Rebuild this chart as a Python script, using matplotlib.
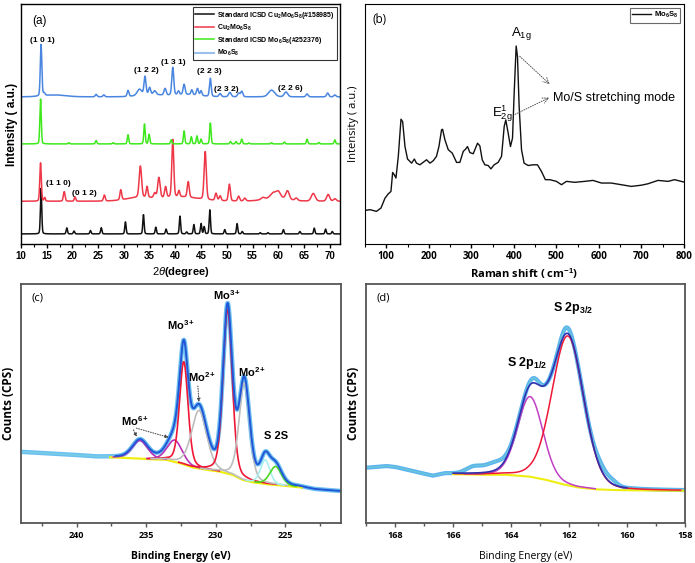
import numpy as np
import matplotlib
matplotlib.use("Agg")
import matplotlib.pyplot as plt

plt.rcParams["mathtext.fontset"] = "custom"
plt.rcParams["mathtext.rm"] = "Liberation Sans"
plt.rcParams["mathtext.it"] = "Liberation Sans:italic"
plt.rcParams["mathtext.bf"] = "Liberation Sans:bold"

# ---------------- data: (a) XRD peak lists (2theta, height) ----------------
xrd_black_base = 4.2
xrd_black_pos = [13.9, 18.9, 20.3, 23.5, 25.6, 30.3, 33.8, 36.2, 38.2, 40.9, 42.2, 43.6, 45.0, 45.6,
                 46.7, 49.6, 52.0, 53.0, 56.5, 58.0, 61.0, 64.2, 67.0, 69.2, 70.5]
xrd_black_h = [19.0, 2.5, 1.2, 1.4, 2.6, 5.0, 8.0, 2.8, 2.0, 7.4, 0.8, 3.9, 4.3, 3.0,
               10.0, 1.8, 4.3, 1.0, 0.5, 0.5, 1.8, 1.0, 2.4, 2.0, 1.0]

xrd_red_base = 17.8
xrd_red_pos = [13.8, 14.6, 18.4, 20.5, 26.2, 29.4, 33.2, 34.5, 36.0, 36.8, 38.1, 39.5, 40.7, 42.5,
               45.8, 47.9, 48.7, 50.5, 52.3, 53.5, 57.0, 59.0, 60.0, 61.8, 63.5, 66.8, 69.7, 71.0,
               33.0, 41.0, 59.5]
xrd_red_h = [16.0, 1.5, 4.0, 1.8, 2.5, 4.2, 13.0, 4.5, 2.0, 8.5, 4.5, 24.0, 2.5, 6.5,
             20.0, 3.0, 2.0, 7.0, 2.0, 1.2, 0.8, 2.0, 2.5, 3.5, 1.0, 3.2, 2.8, 1.0,
             1.5, 1.8, 1.5]
xrd_red_w = [0.35, 0.3, 0.4, 0.35, 0.4, 0.4, 0.55, 0.4, 0.5, 0.55, 0.45, 0.45, 0.4, 0.45,
             0.5, 0.45, 0.45, 0.45, 0.45, 0.5, 0.8, 1.2, 1.0, 0.8, 0.6, 0.9, 0.7, 0.6,
             6.0, 8.0, 5.0]

xrd_green_base = 41.7
xrd_green_pos = [13.8, 19.3, 24.6, 27.9, 30.8, 34.0, 34.9, 39.2, 41.7, 43.1, 44.2, 45.0, 46.8,
                 50.7, 51.8, 52.9, 54.3, 58.7, 61.2, 65.6, 67.9, 71.0]
xrd_green_h = [18.7, 0.5, 1.4, 0.5, 3.8, 8.3, 4.0, 1.7, 5.4, 3.0, 3.3, 2.0, 8.7,
               1.0, 1.0, 2.0, 0.4, 0.5, 0.8, 2.0, 0.6, 1.7]

xrd_blue_base = 61.3
xrd_blue_pos = [13.9, 14.5, 24.6, 26.1, 30.8, 33.0, 34.1, 35.0, 36.0, 38.0, 39.5, 40.6, 41.7,
                43.2, 44.3, 45.0, 46.8, 48.7, 50.6, 52.3, 52.9, 58.7, 61.5, 65.6, 69.6, 71.0,
                16.5, 35.0, 42.0]
xrd_blue_h = [21.5, 1.0, 1.0, 0.8, 2.5, 2.5, 7.5, 2.8, 1.5, 2.8, 11.5, 1.5, 4.2,
              2.0, 2.8, 2.0, 7.5, 1.3, 1.8, 1.5, 2.3, 2.8, 2.0, 1.2, 1.6, 0.8,
              0.8, 1.0, 1.0]
xrd_blue_w = [0.35, 0.4, 0.4, 0.4, 0.4, 1.0, 0.45, 0.45, 0.6, 0.5, 0.45, 0.4, 0.45,
              0.4, 0.45, 0.4, 0.4, 0.5, 0.6, 0.5, 0.5, 1.4, 0.8, 0.5, 0.5, 0.5,
              5.0, 5.0, 6.0]

xrd_labels = ["(1 0 1)", "(1 2 2)", "(1 3 1)", "(2 2 3)", "(2 3 2)", "(2 2 6)", "(1 1 0)", "(0 1 2)"]
xrd_label_x = [14.2, 34.3, 39.7, 46.6, 50.0, 62.3, 17.2, 22.3]
xrd_label_y = [85.0, 72.5, 75.5, 71.8, 64.3, 65.0, 25.2, 21.0]

legend_a = [r"Standard ICSD Cu$_\mathbf{2}$Mo$_\mathbf{6}$S$_\mathbf{8}$(#158985)",
            r"Cu$_\mathbf{2}$Mo$_\mathbf{6}$S$_\mathbf{8}$",
            r"Standard ICSD Mo$_\mathbf{6}$S$_\mathbf{8}$(#252376)",
            r"Mo$_\mathbf{6}$S$_\mathbf{8}$"]

# ---------------- data: (b) Raman trace ----------------
raman_x = [50, 61.7, 77, 87.6, 97, 104.8, 111, 115, 119, 122.8, 128.3, 134.6, 138.5, 144, 150,
           159.6, 166, 171, 179, 194.8, 202.7, 210.5, 218, 223.8, 230, 232.4, 237.9, 245.7, 255,
           265.3, 273, 281, 286.4, 291, 296.6, 304.4, 314.6, 320, 325.6, 331.8, 339.7, 346, 353.7,
           363, 371, 377.3, 381, 386.6, 392, 396.8, 400.7, 405.4, 408.5, 412.4, 418, 424, 433.6,
           445.3, 455.5, 465, 474, 484.4, 500, 512, 523.6, 543, 566.7, 586, 605.8, 629, 652.7,
           676, 699.8, 715.4, 738.9, 762.5, 778, 800]
raman_y = [14.0, 14.3, 13.6, 15.0, 19.1, 20.9, 21.9, 29.8, 28.8, 27.5, 36.5, 52.0, 51.0, 40.6, 35.4,
           33.7, 35.4, 33.7, 33.0, 35.1, 33.7, 34.7, 36.5, 40.6, 47.6, 47.8, 43.4, 39.3, 37.9,
           34.0, 34.0, 38.6, 39.5, 40.6, 38.1, 37.6, 42.0, 40.9, 35.1, 33.0, 32.7, 31.3, 33.0,
           34.0, 36.5, 49.0, 51.7, 46.2, 40.6, 44.1, 62.8, 82.5, 78.1, 57.3, 39.3, 33.7, 32.7,
           33.0, 33.0, 30.2, 26.8, 26.8, 26.1, 24.7, 26.1, 25.7, 26.1, 26.5, 25.4, 25.4, 24.7,
           24.0, 24.5, 25.1, 26.5, 26.1, 26.8, 25.8]

# ---------------- data: (c) XPS Mo 3d ----------------
c_base_x = [244.0, 240.7, 238.6, 237.1, 234.8, 233.6, 232.6, 231.7, 230.7, 229.8, 228.8, 228.1,
            227.4, 226.4, 225.2, 224.5, 224.0, 222.9, 221.0]
c_base_y = [29.7, 28.6, 27.6, 27.4, 26.7, 26.5, 25.1, 23.3, 22.3, 21.6, 20.2, 18.1,
            17.1, 16.3, 15.7, 15.2, 15.0, 13.9, 13.2]
c_comp_names = ["Mo6+ a", "Mo6+ b", "Mo3+ a", "Mo2+ a", "Mo3+ b", "Mo2+ b", "S2s a", "S2s b"]
c_comp_center = [235.45, 232.95, 232.3, 231.2, 229.15, 227.95, 226.45, 225.7]
c_comp_height = [7.6, 9.1, 43.0, 24.3, 68.6, 40.7, 10.1, 7.7]
c_comp_fwhm = [1.3, 1.26, 0.72, 1.3, 0.78, 0.9, 0.8, 1.0]
c_comp_color = ["#b832b8", "#b832b8", "#ee1836", "#bdbdbd", "#ee1836", "#bdbdbd", "#a8f0ee", "#4cd824"]

# ---------------- data: (d) XPS S 2p ----------------
d_base_x = [169.0, 168.3, 168.0, 167.4, 166.7, 166.3, 165.1, 164.2, 163.4, 162.8, 162.25, 161.7,
            161.1, 160.5, 159.4, 158.0]
d_base_y = [23.0, 23.7, 23.3, 21.6, 19.5, 20.5, 20.2, 20.2, 19.5, 18.1, 16.3, 14.9,
            14.1, 13.8, 13.6, 13.5]
d_comp_center = [163.34, 162.04]
d_comp_height = [33.5, 62.5]
d_comp_fwhm = [1.03, 1.29]
d_comp_color = ["#c23fc2", "#ee1836"]
d_resid_center = [164.6, 165.3, 162.1, 163.2, 160.9, 160.5]
d_resid_height = [3.5, 2.5, 2.5, 2.0, 2.5, 1.5]
d_resid_fwhm = [0.8, 0.6, 0.4, 0.4, 0.5, 0.4]


def pv(x, c, h, w, eta=0.3):
    g = np.exp(-4 * np.log(2) * ((x - c) / w) ** 2)
    l = 1.0 / (1.0 + (2 * (x - c) / w) ** 2)
    return h * ((1 - eta) * g + eta * l)


def pattern(x, base, pos, hts, widths, eta=0.2):
    y = np.full_like(x, base, dtype=float)
    for i, (c, h) in enumerate(zip(pos, hts)):
        w = widths[i] if np.ndim(widths) else widths
        y += pv(x, c, h, w, eta)
    return y


fig = plt.figure(figsize=(6.95, 5.63), dpi=100)
W, H = 695, 563


def add_ax(l, t, r, b):
    return fig.add_axes([l / W, 1 - b / H, (r - l) / W, (b - t) / H])


fa = "Liberation Sans"
fc = "Open Sans"

# ======================= (a) =======================
ax = add_ax(21, 4, 340, 244)
x = np.linspace(10, 72, 4000)
c_black, c_red, c_green, c_blue = "#111111", "#ee3848", "#3ee81c", "#4a86e0"
ax.plot(x, pattern(x, xrd_black_base, xrd_black_pos, xrd_black_h, 0.3), color=c_black, lw=1.1,
        label=legend_a[0])
ax.plot(x, pattern(x, xrd_red_base, xrd_red_pos, xrd_red_h, xrd_red_w), color=c_red, lw=1.1,
        label=legend_a[1])
ax.plot(x, pattern(x, xrd_green_base, xrd_green_pos, xrd_green_h, 0.32), color=c_green, lw=1.1,
        label=legend_a[2])
ax.plot(x, pattern(x, xrd_blue_base, xrd_blue_pos, xrd_blue_h, xrd_blue_w), color=c_blue, lw=1.1,
        label=legend_a[3])
ax.set_xlim(10, 72)
ax.set_ylim(0, 100)
ax.set_yticks([])
ax.set_xticks(np.arange(10, 71, 5))
ax.set_xticks(np.arange(12.5, 72, 5), minor=True)
ax.tick_params(axis="x", which="major", direction="out", length=3, width=1, labelsize=7, pad=2)
ax.tick_params(axis="x", which="minor", direction="out", length=2, width=0.8)
for lab in ax.get_xticklabels():
    lab.set_fontfamily(fa)
    lab.set_fontweight("bold")
ax.set_xlabel(r"$\mathit{2\theta}$(degree)", fontsize=8, fontweight="bold", family=fa, labelpad=3)
ax.set_ylabel("Intensity ( a.u.)", fontsize=8.5, fontweight="bold", family=fa, labelpad=2)
for s in ax.spines.values():
    s.set_linewidth(1.0)
ax.text(0.035, 0.93, "(a)", transform=ax.transAxes, fontsize=8.5, family=fa, va="center")
for t, xx, yy in zip(xrd_labels, xrd_label_x, xrd_label_y):
    ax.text(xx, yy, t, fontsize=6, fontweight="bold", family=fa, ha="center", va="center")
leg = ax.legend(loc="upper right", bbox_to_anchor=(1.0, 1.0), frameon=True, fancybox=False,
                edgecolor="black", borderpad=0.3, handlelength=2.8, labelspacing=0.3, handletextpad=0.4,
                prop={"family": fa, "weight": "bold", "size": 5})
leg.get_frame().set_linewidth(0.8)
leg.get_lines()[3].set_color("#9cc0ee")
leg.get_lines()[3].set_linewidth(1.5)

# ======================= (b) =======================
ax = add_ax(365, 4, 684, 244)
ax.plot(raman_x, raman_y, color="#111111", lw=1.0, label=r"Mo$_\mathbf{6}$S$_\mathbf{8}$")
ax.set_xlim(50, 800)
ax.set_ylim(0, 100)
ax.set_yticks([])
ax.set_xticks(np.arange(100, 801, 100))
ax.set_xticks(np.arange(50, 801, 100), minor=True)
ax.tick_params(axis="x", which="major", direction="out", length=3, width=1, labelsize=7, pad=2)
ax.tick_params(axis="x", which="minor", direction="out", length=2, width=0.8)
for lab in ax.get_xticklabels():
    lab.set_fontfamily(fc)
    lab.set_fontweight("bold")
ax.set_xlabel("Raman shift ( cm$^{\\mathbf{-1}}$)", fontsize=8, fontweight="bold", family=fc, labelpad=3)
ax.set_ylabel("Intensity ( a.u.)", fontsize=8, family=fc, labelpad=4)
ax.text(0.025, 0.935, "(b)", transform=ax.transAxes, fontsize=8.5, family=fc, va="center")
ax.text(418, 87.5, r"A$_\mathregular{1g}$", fontsize=9.5, family=fa, ha="center", va="center")
ax.text(374, 54.5, r"E$^\mathregular{1}_\mathregular{2g}$", fontsize=9.5, family=fa, ha="center", va="center")
ax.text(492, 61.0, "Mo/S stretching mode", fontsize=9, family=fa, ha="left", va="center")
ax.annotate("", xy=(489, 65.8), xytext=(409, 79),
            arrowprops=dict(arrowstyle="->", linestyle=(0, (1, 1.5)), color="#555555", lw=0.7))
ax.annotate("", xy=(489, 61.5), xytext=(397, 53.5),
            arrowprops=dict(arrowstyle="->", linestyle=(0, (1, 1.5)), color="#555555", lw=0.7))
leg = ax.legend(loc="upper right", bbox_to_anchor=(1.0, 1.0), frameon=True, fancybox=False,
                edgecolor="#444444", borderpad=0.3, handlelength=2.4, handletextpad=0.4,
                prop={"family": fa, "weight": "bold", "size": 5.5})
leg.get_frame().set_linewidth(0.8)

# ======================= (c) =======================
ax = add_ax(21, 284, 341, 523)
xc = np.linspace(244, 221, 3000)
basec = np.interp(xc, c_base_x[::-1], c_base_y[::-1])
comps = [pv(xc, c, h, w) for c, h, w in zip(c_comp_center, c_comp_height, c_comp_fwhm)]
env = basec + np.sum(comps, axis=0)
ax.plot(xc, env, color="#6cc0f0", lw=3.2, solid_capstyle="round")
ax.plot(xc, env, color="#7fd6e0", lw=1.2, alpha=0.6)
mb = xc <= 237.6
ax.plot(xc[mb & (xc >= 223.8)], basec[mb & (xc >= 223.8)], color="#eeee10", lw=1.6)
for comp, col in zip(comps, c_comp_color):
    m = comp > 0.25
    ax.plot(xc[m], (basec + comp)[m], color=col, lw=1.2)
me = xc <= 237.2
ax.plot(xc[me], env[me], color="#2156d8", lw=1.4)
ax.set_xlim(244, 221)
ax.set_ylim(0, 100)
ax.set_yticks([])
ax.set_xticks([240, 235, 230, 225])
ax.set_xticks([242.5, 237.5, 232.5, 227.5, 222.5], minor=True)
ax.tick_params(axis="x", which="major", direction="out", length=3, width=1, labelsize=6.5, pad=3,
               color="#555555")
ax.tick_params(axis="x", which="minor", direction="out", length=2, width=1, color="#555555")
for lab in ax.get_xticklabels():
    lab.set_fontfamily(fc)
    lab.set_fontweight("bold")
ax.set_xlabel("Binding Energy (eV)", fontsize=7.5, fontweight="bold", family=fc, labelpad=8)
ax.set_ylabel("Counts (CPS)", fontsize=8.5, fontweight="bold", family=fc, labelpad=4)
for s in ax.spines.values():
    s.set_linewidth(1.3)
    s.set_color("#555555")
ax.text(0.032, 0.94, "(c)", transform=ax.transAxes, fontsize=8, family=fc, va="center")
mo_kw = dict(fontsize=8, fontweight="bold", family=fa, ha="center", va="center")
ax.text(232.5, 83.0, r"Mo$^\mathbf{3+}$", **mo_kw)
ax.text(229.2, 95.2, r"Mo$^\mathbf{3+}$", **mo_kw)
ax.text(231.0, 61.2, r"Mo$^\mathbf{2+}$", **mo_kw)
ax.text(227.4, 63.2, r"Mo$^\mathbf{2+}$", **mo_kw)
ax.text(235.8, 42.5, r"Mo$^\mathbf{6+}$", **mo_kw)
ax.text(225.7, 36.2, "S 2S", **mo_kw)
ap = dict(arrowstyle="-|>", linestyle=(0, (1, 1.5)), color="#444444", lw=0.7, mutation_scale=5)
ax.annotate("", xy=(235.6, 35.0), xytext=(236.0, 40.0), arrowprops=ap)
ax.annotate("", xy=(233.2, 35.5), xytext=(235.9, 40.0), arrowprops=ap)
ax.annotate("", xy=(231.2, 49.5), xytext=(231.3, 58.5), arrowprops=ap)

# ======================= (d) =======================
ax = add_ax(366, 284, 685, 523)
xd = np.linspace(169, 158, 3000)
based = np.interp(xd, d_base_x[::-1], d_base_y[::-1])
dcomps = [pv(xd, c, h, w, 0.15) for c, h, w in zip(d_comp_center, d_comp_height, d_comp_fwhm)]
envd = based + np.sum(dcomps, axis=0)
resid = np.sum([pv(xd, c, h, w, 0.0) for c, h, w in zip(d_resid_center, d_resid_height, d_resid_fwhm)], axis=0)
datad = envd + resid
ax.plot(xd, datad, color="#5ab4ee", lw=3.0)
ax.plot(xd, datad, color="#7fd6c8", lw=1.0, alpha=0.5)
mb = (xd <= 166.0)
ax.plot(xd[mb], based[mb], color="#eeee10", lw=1.5)
for comp, col in zip(dcomps, d_comp_color):
    m = comp > 0.25
    ax.plot(xd[m], (based + comp)[m], color=col, lw=1.1)
me = (xd <= 166.0) & (xd >= 160.0)
ax.plot(xd[me], envd[me], color="#3030b0", lw=1.2)
ax.set_xlim(169, 158)
ax.set_ylim(0, 100)
ax.set_yticks([])
ax.set_xticks([168, 166, 164, 162, 160, 158])
ax.set_xticks([169, 167, 165, 163, 161, 159], minor=True)
ax.tick_params(axis="x", which="major", direction="out", length=3, width=1, labelsize=6.5, pad=3,
               color="#555555")
ax.tick_params(axis="x", which="minor", direction="out", length=2, width=1, color="#555555")
for lab in ax.get_xticklabels():
    lab.set_fontfamily(fc)
    lab.set_fontweight("bold")
ax.set_xlabel("Binding Energy (eV)", fontsize=7.5, family=fc, labelpad=8)
ax.set_ylabel("Counts (CPS)", fontsize=8.5, fontweight="bold", family=fc, labelpad=4)
for s in ax.spines.values():
    s.set_linewidth(1.3)
    s.set_color("#555555")
ax.text(0.032, 0.94, "(d)", transform=ax.transAxes, fontsize=8, family=fc, va="center")
ax.text(161.85, 90.0, r"S 2p$_\mathbf{3/2}$", fontsize=9, fontweight="bold", family=fa, ha="center", va="center")
ax.text(163.45, 67.0, r"S 2p$_\mathbf{1/2}$", fontsize=9, fontweight="bold", family=fa, ha="center", va="center")

fig.savefig("out.png", dpi=100)
